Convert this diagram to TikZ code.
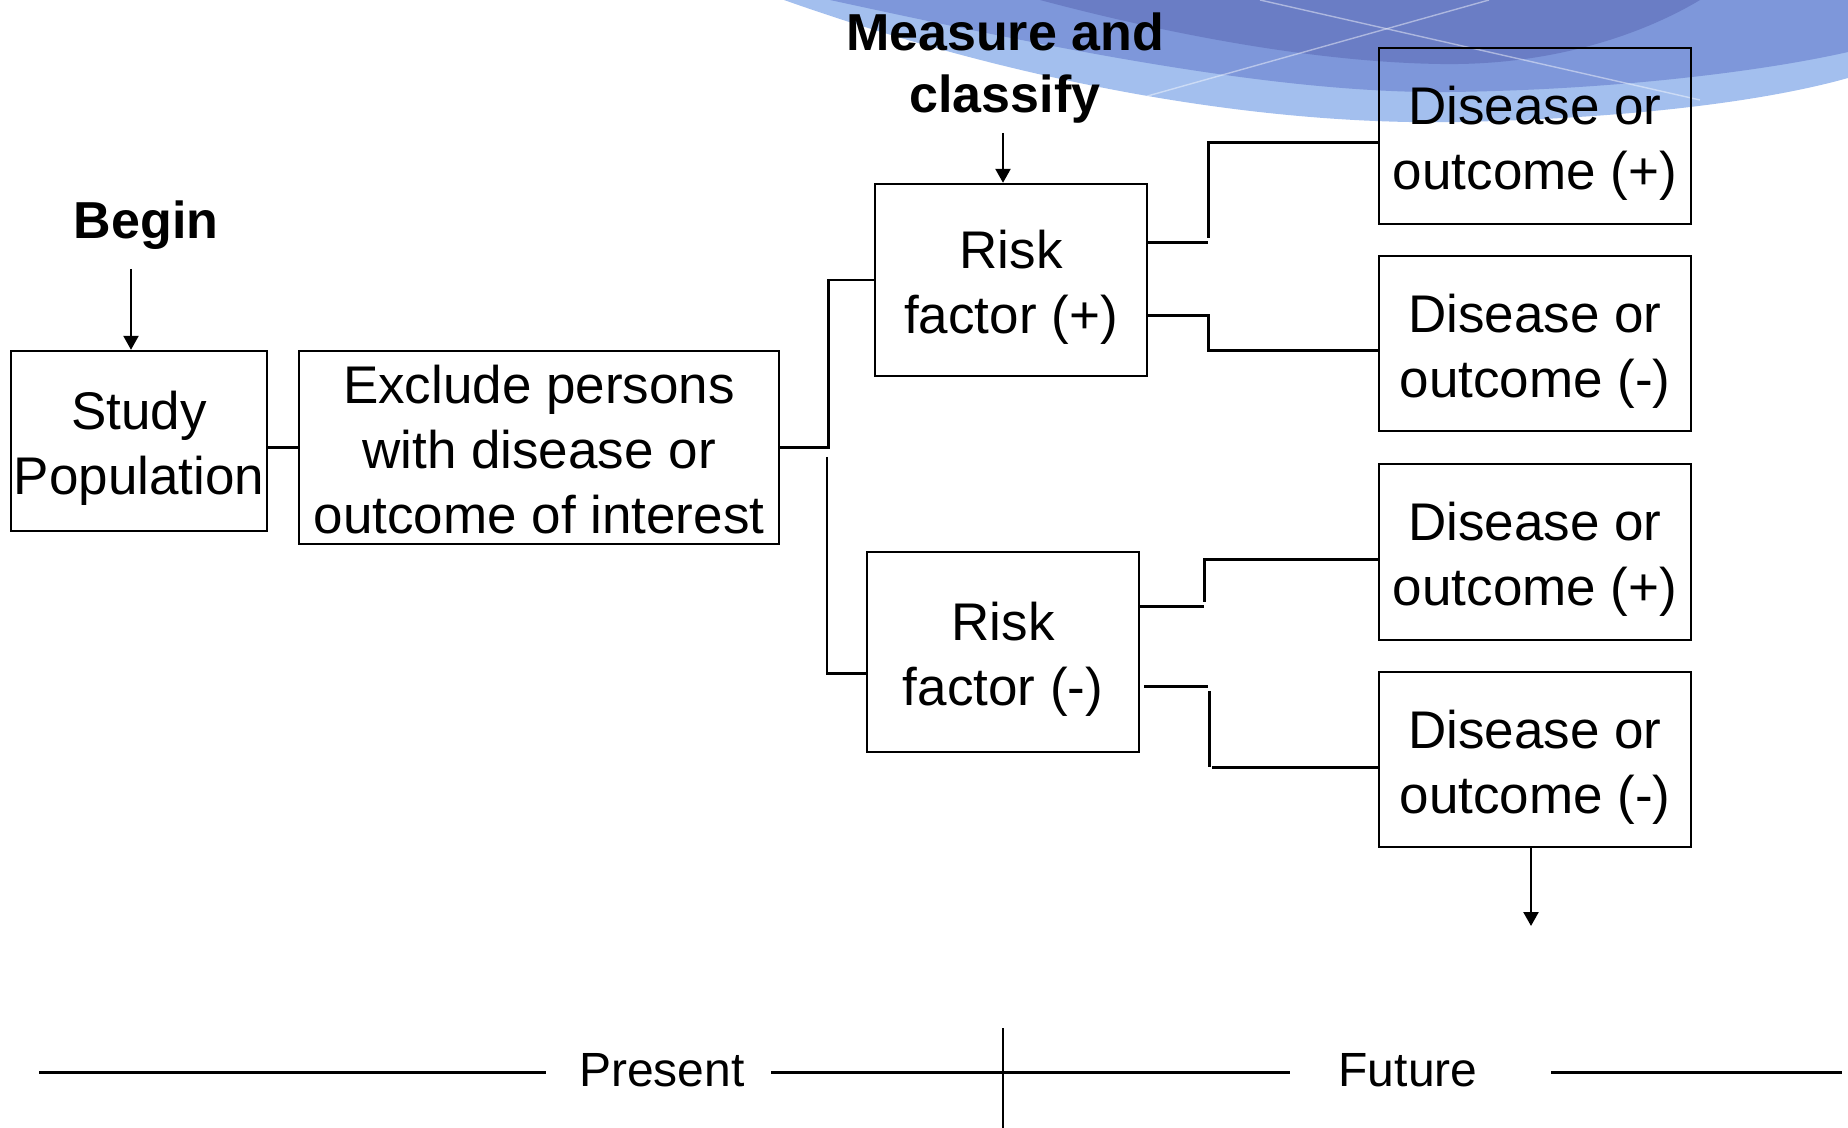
\documentclass[tikz,border=0pt]{standalone}
\usepackage{fontspec}
\setmainfont{Liberation Sans}
\usetikzlibrary{arrows.meta,calc}
\definecolor{waveLight}{HTML}{A3BFEE}
\definecolor{waveMid}{HTML}{7E97DA}
\definecolor{waveDark}{HTML}{6A7DC5}
% extra room above the first line of a box label
\newcommand{\tallstrut}{\rule{0pt}{26.5pt}}
\newcommand{\midstrut}{\rule{0pt}{21.5pt}}
\begin{document}
\begin{tikzpicture}[x=0.5pt,y=-0.5pt,
  box/.style={draw,line width=1.2pt,inner sep=0pt,align=center,
    font=\fontsize{26.5}{32.5}\selectfont},
  conn/.style={line width=1.4pt},
  arr/.style={line width=1.2pt,-{Triangle[length=7pt,width=7.5pt]}},
  boldlabel/.style={font=\fontsize{26}{31}\selectfont\bfseries,align=center,inner sep=0pt},
  axislabel/.style={font=\fontsize{24}{28}\selectfont,inner sep=0pt},
  axisline/.style={line width=1.5pt}]
\useasboundingbox (0,0) rectangle (1848,1128);

% decorative wave along the top edge
\fill[waveLight] (784,0) .. controls (1010,80) and (1250,126) .. (1460,122)
  .. controls (1640,118) and (1770,100) .. (1848,78) -- (1848,0) -- cycle;
\fill[waveMid] (830,0) .. controls (1060,50) and (1280,94) .. (1450,92)
  .. controls (1610,90) and (1760,72) .. (1848,52) -- (1848,0) -- cycle;
\fill[waveDark] (1040,0) .. controls (1160,32) and (1310,62) .. (1440,64)
  .. controls (1560,66) and (1650,30) .. (1700,0) -- cycle;
\begin{scope}
  \clip (784,0) .. controls (1010,80) and (1250,126) .. (1460,122)
    .. controls (1640,118) and (1770,100) .. (1848,78) -- (1848,0) -- cycle;
  \draw[white,opacity=0.45,line width=0.7pt] (1260,0) -- (1700,100);
  \draw[white,opacity=0.45,line width=0.7pt] (1080,115) -- (1489,0);
\end{scope}

% boxes
\node[box,minimum width=128pt,minimum height=90pt] (study) at (139,441) {\tallstrut Study\\Population};
\node[box,minimum width=240pt,minimum height=96.5pt] (excl) at (539,447.5) {\midstrut Exclude persons\\with disease or\\outcome of interest};
\node[box,minimum width=136pt,minimum height=96pt] (rfp) at (1011,280) {\tallstrut Risk\\factor (+)};
\node[box,minimum width=136pt,minimum height=100pt] (rfm) at (1003,652) {\tallstrut Risk\\factor (-)};
\node[box,minimum width=156pt,minimum height=88pt] (d1) at (1535,136) {\tallstrut Disease or\\outcome (+)};
\node[box,minimum width=156pt,minimum height=87.5pt] (d2) at (1535,343.5) {\tallstrut Disease or\\outcome (-)};
\node[box,minimum width=156pt,minimum height=88pt] (d3) at (1535,552) {\tallstrut Disease or\\outcome (+)};
\node[box,minimum width=156pt,minimum height=87.5pt] (d4) at (1535,759.5) {\tallstrut Disease or\\outcome (-)};

% bold labels and their arrows
\node[boldlabel] (begin) at (146,225) {Begin};
\node[boldlabel] (measure) at (1005,68) {Measure and\\classify};
\coordinate (beginTail) at (131,269);
\draw[arr] (beginTail) -- (beginTail |- study.north);
\coordinate (measTail) at (1003,133);
\draw[arr] (measTail) -- (measTail |- rfp.north);
\coordinate (outHead) at (1531,926);
\draw[arr] (outHead |- d4.south) -- (outHead);

% study population -> exclusion
\draw[conn] (study.east |- excl.west) -- (excl.west);

% exclusion -> risk factor groups
\draw[conn] (excl.east) -- ++(48,0) |- (rfp.west);
\coordinate (splitLow) at (827,457);
\coordinate (rfmIn) at ($(rfm.south west)+(0,-80)$);
\draw[conn] (splitLow) |- (rfmIn);

% risk factor (+) -> outcomes
\coordinate (rfpOutA) at ($(rfp.north east)+(0,60)$);
\coordinate (rfpOutB) at ($(rfp.north east)+(0,133)$);
\coordinate (d1In) at ($(d1.north west)+(0,96)$);
\coordinate (d2In) at ($(d2.north west)+(0,96)$);
\coordinate (jA) at ($(rfpOutA)+(60,-5)$);
\draw[conn] (rfpOutA) -- ++(60,0);
\draw[conn] (jA) |- (d1In);
\draw[conn] (rfpOutB) -- ++(60,0) |- (d2In);

% risk factor (-) -> outcomes
\coordinate (rfmOutA) at ($(rfm.north east)+(0,56)$);
\coordinate (rfmOutB) at ($(rfm.north east)+(4,136)$);
\coordinate (d3In) at ($(d3.north west)+(0,97)$);
\coordinate (d4In) at ($(d4.north west)+(0,97)$);
\coordinate (jB) at ($(rfmOutA)+(64,-5)$);
\coordinate (jC) at ($(rfmOutB)+(65,4)$);
\coordinate (jD) at ($(rfmOutB)+(65,80)$);
\coordinate (jE) at ($(rfmOutB)+(68,81)$);
\draw[conn] (rfmOutA) -- ++(64,0);
\draw[conn] (jB) |- (d3In);
\draw[conn] (rfmOutB) -- ++(64,0);
\draw[conn] (jC) -- (jD);
\draw[conn] (jE) -- (d4In);

% time axis
\node[axislabel] (present) at (662,1070) {Present};
\node[axislabel] (future) at (1408,1070) {Future};
\coordinate (tA) at (39,1072);
\coordinate (tB) at (546,1072);
\coordinate (tC) at (771,1072);
\coordinate (tD) at (1290,1072);
\coordinate (tE) at (1551,1072);
\coordinate (tF) at (1842,1072);
\draw[axisline] (tA) -- (tB);
\draw[axisline] (tC) -- (tD);
\draw[axisline] (tE) -- (tF);
\coordinate (nowTop) at (1003,1028);
\coordinate (nowBot) at (1003,1128);
\draw[line width=1.1pt] (nowTop) -- (nowBot);
\end{tikzpicture}
\end{document}
